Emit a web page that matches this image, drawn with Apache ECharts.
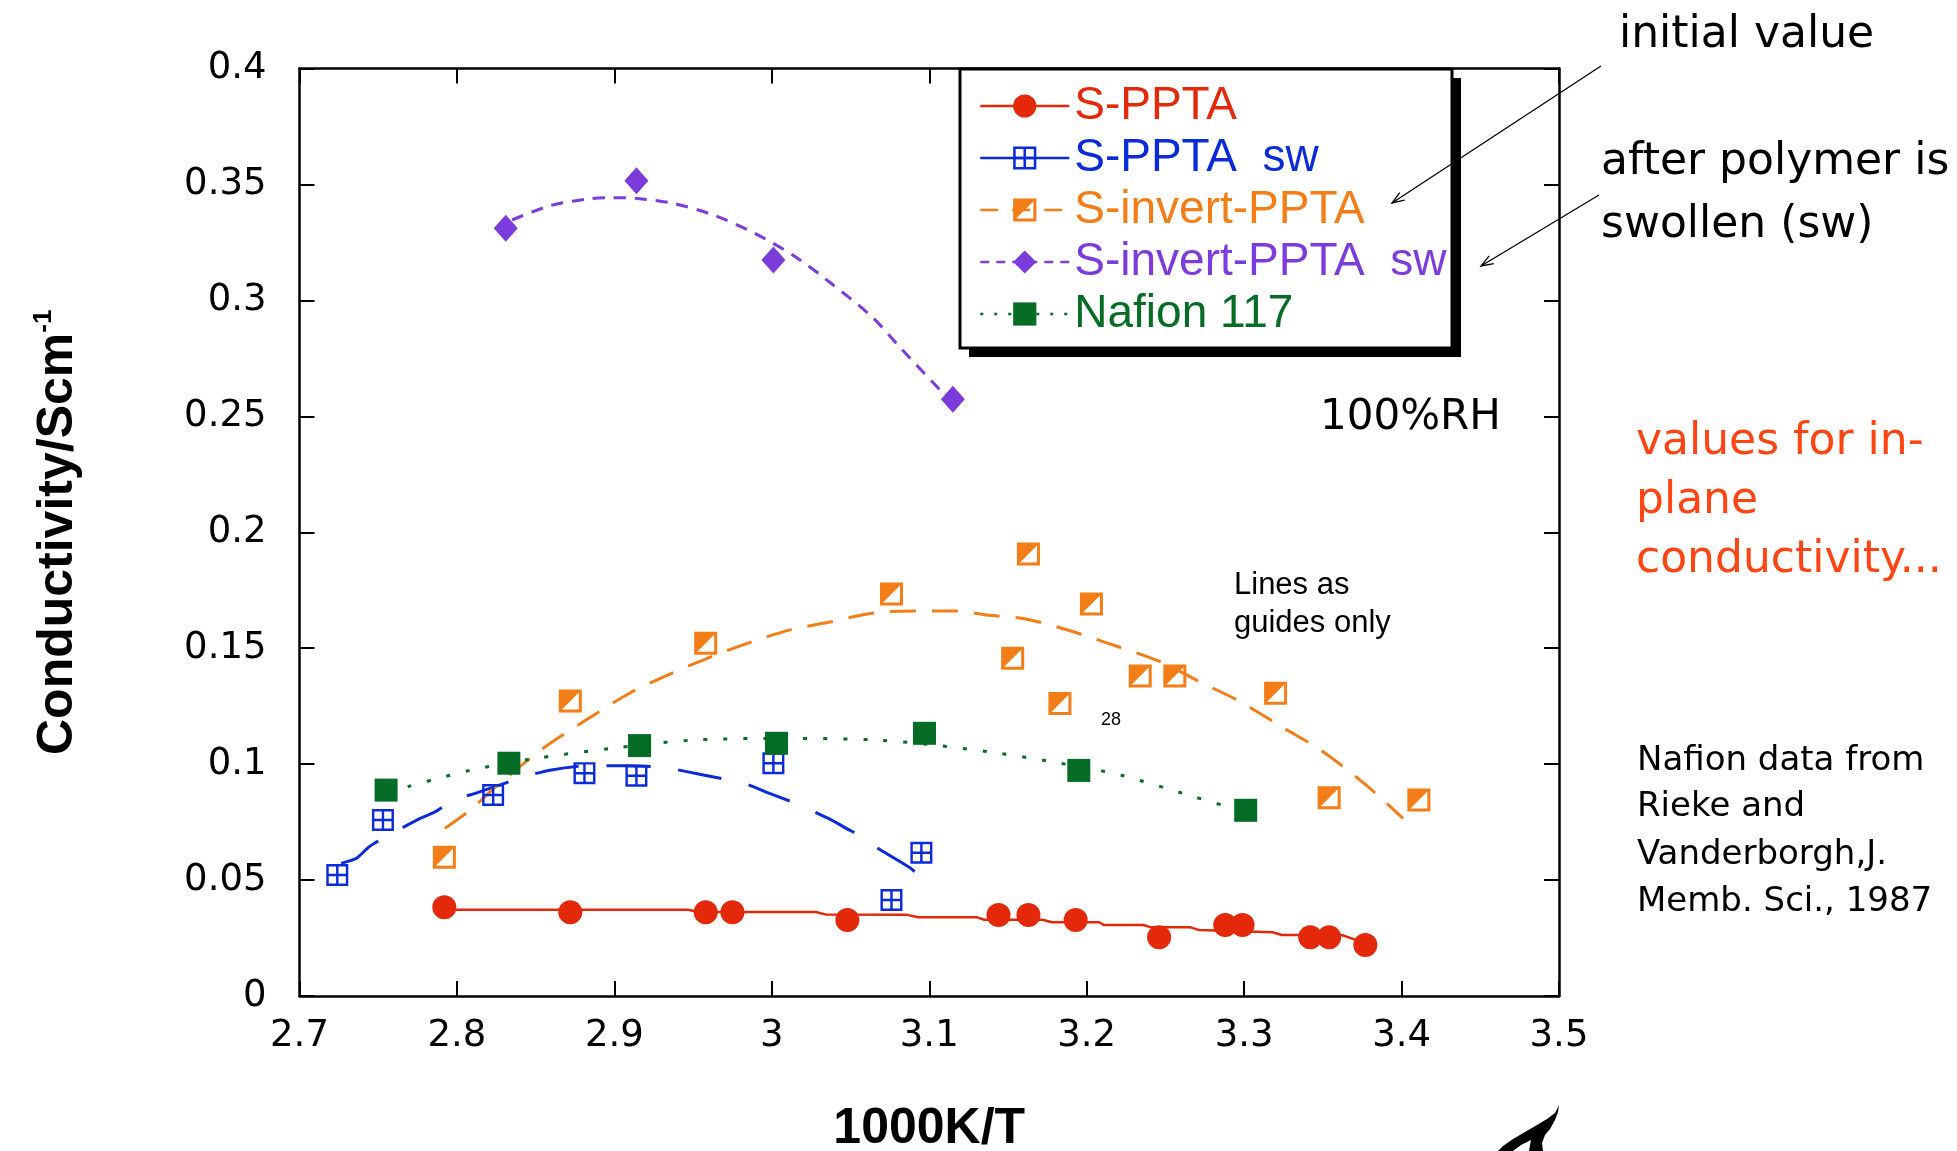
<!DOCTYPE html>
<html>
<head>
<meta charset="utf-8">
<style>
  html, body { margin: 0; padding: 0; background: #fff; }
  #chart { width: 1957px; height: 1151px; }
</style>
<script src="https://cdn.jsdelivr.net/npm/echarts@6/dist/echarts.min.js"></script>
</head>
<body>
<div id="chart"></div>
<script>
// ---- measured points (x = 1000K/T, y = conductivity S/cm) ----
const pptaX = [2.792, 2.872, 2.958, 2.975, 3.048, 3.144, 3.163, 3.193, 3.246, 3.288, 3.299, 3.342, 3.354, 3.377];
const pptaY = [0.0383, 0.0361, 0.0361, 0.0361, 0.0328, 0.0349, 0.0349, 0.0328, 0.0253, 0.0306, 0.0306, 0.0253, 0.0253, 0.022];

const pptaSwX = [2.724, 2.753, 2.823, 2.881, 2.914, 3.001, 3.076, 3.095];
const pptaSwY = [0.0522, 0.0759, 0.0867, 0.0961, 0.0950, 0.1004, 0.0414, 0.0618];

const invX = [2.792, 2.872, 2.958, 3.076, 3.153, 3.163, 3.183, 3.203, 3.234, 3.256, 3.320, 3.354, 3.411];
const invY = [0.0598, 0.1272, 0.1521, 0.1734, 0.1457, 0.1906, 0.1262, 0.1691, 0.1380, 0.1380, 0.1306, 0.0855, 0.0845];

const invSwX = [2.831, 2.914, 3.001, 3.115];
const invSwY = [0.3311, 0.3516, 0.3174, 0.2574];

const nafionX = [2.755, 2.833, 2.916, 3.003, 3.097, 3.195, 3.301];
const nafionY = [0.0888, 0.1004, 0.1080, 0.1090, 0.1133, 0.0973, 0.0801];

// ---- hand-drawn guide lines ----
const pptaGuideX = [2.792, 2.947, 2.953, 3.028, 3.034, 3.086, 3.093, 3.130, 3.135, 3.172, 3.178, 3.208, 3.211, 3.236, 3.241, 3.266, 3.271, 3.318, 3.324, 3.362, 3.371, 3.377];
const pptaGuideY = [0.0372, 0.0372, 0.0362, 0.0362, 0.0352, 0.0350, 0.0340, 0.0340, 0.0329, 0.0329, 0.0318, 0.0318, 0.0306, 0.0306, 0.0296, 0.0296, 0.0285, 0.0275, 0.0263, 0.0263, 0.0242, 0.022];

const pptaSwGuideX = [2.7265, 2.7362, 2.7443, 2.7556, 2.7767, 2.7864, 2.7994, 2.8082, 2.8302, 2.840, 2.860, 2.882, 2.908, 2.9323, 2.9566, 2.9825, 2.9987, 3.015, 3.036, 3.0473, 3.057, 3.0667, 3.0878, 3.0949];
const pptaSwGuideY = [0.0572, 0.0594, 0.0644, 0.0690, 0.0766, 0.0795, 0.0853, 0.0867, 0.0917, 0.0942, 0.0975, 0.0993, 0.0993, 0.0985, 0.0953, 0.0917, 0.0874, 0.0831, 0.0766, 0.0723, 0.0687, 0.0640, 0.0553, 0.0510];

const invGuideX = [2.7923, 2.8084, 2.827, 2.8561, 2.882, 2.9096, 2.934, 2.9614, 2.9874, 3.0117, 3.0376, 3.0635, 3.0895, 3.1158, 3.1365, 3.1613, 3.1916, 3.2137, 3.2467, 3.2715, 3.2977, 3.3238, 3.3486, 3.3762, 3.401];
const invGuideY = [0.0723, 0.0802, 0.0917, 0.1075, 0.1190, 0.1306, 0.1385, 0.1463, 0.1528, 0.1579, 0.1614, 0.1651, 0.1661, 0.1661, 0.1643, 0.1626, 0.1571, 0.1521, 0.1442, 0.1356, 0.1269, 0.1161, 0.1061, 0.0917, 0.0766];

const invSwGuideX = [2.835, 2.8594, 2.8837, 2.8982, 2.9144, 2.9372, 2.963, 2.989, 3.0149, 3.0376, 3.0635, 3.083, 3.1089];
const invSwGuideY = [0.3347, 0.3409, 0.3438, 0.3443, 0.3440, 0.3419, 0.3368, 0.3290, 0.3189, 0.3074, 0.2930, 0.2786, 0.2599];

const nafionGuideX = [2.7687, 2.8075, 2.8464, 2.8982, 2.9501, 3.015, 3.0668, 3.1062, 3.1442, 3.1833, 3.222, 3.261, 3.2866];
const nafionGuideY = [0.0903, 0.0972, 0.1021, 0.1068, 0.1104, 0.1111, 0.1104, 0.1080, 0.1047, 0.1004, 0.0952, 0.0874, 0.0822];

const seriesNames = ['S-PPTA', 'S-PPTA  sw', 'S-invert-PPTA', 'S-invert-PPTA  sw', 'Nafion 117'];

const RED = '#e4280a', BLUE = '#0b2bd8', ORANGE = '#f37d16', PURPLE = '#7c3cdb', GREEN = '#046c24';
const HAND = 'DejaVu Sans';

const gridSquare = 'path://M0,0H20V2.2H0Z M0,17.8H20V20H0Z M0,0H2.2V20H0Z M17.8,0H20V20H17.8Z M8.9,0H11.1V20H8.9Z M0,8.9H20V11.1H0Z';
const halfSquare = 'path://M0,0H20V2.6H0Z M0,17.4H20V20H0Z M0,0H2.6V20H0Z M17.4,0H20V20H17.4Z M0,0L20,0L0,20Z';

const pairs = (xs, ys) => xs.map((x, i) => [x, ys[i]]);

function markers(name, xs, ys, color, symbol, size) {
    return {
        name: name, type: 'line', data: pairs(xs, ys),
        symbol: symbol, symbolSize: size, showSymbol: true,
        lineStyle: {color: color, opacity: 0},
        itemStyle: {color: color},
        z: 5, silent: true
    };
}
function guide(xs, ys, color, type, width, smooth) {
    return {
        name: 'guide', type: 'line', data: pairs(xs, ys), symbol: 'none', smooth: smooth,
        lineStyle: {color: color, width: width, type: type},
        z: 3, silent: true
    };
}
function legendItem(name, color, type) {
    return {name: name, textStyle: {color: color}, lineStyle: {opacity: 1, width: 2.5, type: type, color: color}};
}
function arrow(x1, y1, x2, y2) {
    const a = Math.atan2(y2 - y1, x2 - x1), L = 13, s = 0.35;
    return [
        {type: 'line', z: 30, shape: {x1: x1, y1: y1, x2: x2, y2: y2}, style: {stroke: '#000', lineWidth: 1.3}},
        {type: 'polyline', z: 30, shape: {points: [
            [x2 - L * Math.cos(a - s), y2 - L * Math.sin(a - s)], [x2, y2],
            [x2 - L * Math.cos(a + s), y2 - L * Math.sin(a + s)]]},
            style: {stroke: '#000', lineWidth: 1.3, fill: null}}
    ];
}
function note(text, x, y, size, family, color, align) {
    return {type: 'text', x: x, y: y, z: 10, style: {
        text: text, fontSize: size, fontFamily: family, fill: color || '#000',
        align: align || 'left', verticalAlign: 'middle'}};
}

const axisLine = {show: true, onZero: false, lineStyle: {color: '#000', width: 2.5}};
const axisTick = {show: true, inside: true, length: 15, lineStyle: {color: '#000', width: 2}};
const tickFont = {color: '#000', fontFamily: 'DejaVu Sans', fontSize: 37};

const chart = echarts.init(document.getElementById('chart'));
chart.setOption({
    animation: false,
    backgroundColor: '#fff',
    grid: {left: 299.5, right: 398, top: 68.6, bottom: 155, containLabel: false, outerBoundsMode: 'none'},
    xAxis: [{
        type: 'value', position: 'bottom', min: 2.7, max: 3.5, interval: 0.1,
        axisLine: axisLine, axisTick: axisTick, splitLine: {show: false},
        axisLabel: Object.assign({margin: 22}, tickFont),
        name: '1000K/T', nameLocation: 'middle', nameGap: 108,
        nameTextStyle: {color: '#000', fontFamily: 'Liberation Sans', fontWeight: 'bold', fontSize: 50}
    }, {
        type: 'value', position: 'top', min: 2.7, max: 3.5, interval: 0.1,
        axisLine: axisLine, axisTick: axisTick, splitLine: {show: false}, axisLabel: {show: false}
    }],
    yAxis: [{
        type: 'value', position: 'left', min: 0, max: 0.4, interval: 0.05,
        axisLine: axisLine, axisTick: axisTick, splitLine: {show: false},
        axisLabel: Object.assign({margin: 33, padding: [0, 0, 14, 0]}, tickFont),
        name: '{m|Conductivity/Scm}{s|-1}', nameLocation: 'middle', nameRotate: 90, nameGap: 213,
        nameTextStyle: {
            color: '#000', fontFamily: 'Liberation Sans', fontWeight: 'bold', fontSize: 50,
            rich: {
                m: {color: '#000', fontFamily: 'Liberation Sans', fontWeight: 'bold', fontSize: 50, lineHeight: 56},
                s: {color: '#000', fontFamily: 'Liberation Sans', fontWeight: 'bold', fontSize: 26, lineHeight: 26, verticalAlign: 'top'}
            }
        }
    }, {
        type: 'value', position: 'right', min: 0, max: 0.4, interval: 0.05,
        axisLine: axisLine, axisTick: axisTick, splitLine: {show: false}, axisLabel: {show: false}
    }],
    legend: {
        orient: 'vertical', left: 960, top: 69, z: 20,
        itemWidth: 89, itemHeight: 29, itemGap: 6, itemTextGap: 10,
        padding: [14, 0, 10, 19],
        backgroundColor: 'transparent', borderWidth: 0,
        selectedMode: false,
        textStyle: {fontFamily: 'Liberation Sans', fontSize: 46, lineHeight: 46},
        data: [
            legendItem(seriesNames[0], RED, 'solid'),
            legendItem(seriesNames[1], BLUE, 'solid'),
            legendItem(seriesNames[2], ORANGE, [18, 14]),
            legendItem(seriesNames[3], PURPLE, [9, 7]),
            legendItem(seriesNames[4], GREEN, [3, 11])
        ]
    },
    series: [
        guide(pptaGuideX, pptaGuideY, RED, 'solid', 2.5, false),
        guide(pptaSwGuideX, pptaSwGuideY, BLUE, [44, 28], 3, 0.2),
        guide(invGuideX, invGuideY, ORANGE, [26, 16], 3, 0.3),
        guide(invSwGuideX, invSwGuideY, PURPLE, [12, 9], 3, 0.3),
        guide(nafionGuideX, nafionGuideY, GREEN, [4, 16], 3, 0.3),
        markers(seriesNames[0], pptaX, pptaY, RED, 'circle', 24),
        markers(seriesNames[1], pptaSwX, pptaSwY, BLUE, gridSquare, 22),
        markers(seriesNames[2], invX, invY, ORANGE, halfSquare, 23),
        markers(seriesNames[3], invSwX, invSwY, PURPLE, 'diamond', [24, 27]),
        markers(seriesNames[4], nafionX, nafionY, GREEN, 'rect', 23)
    ],
    graphic: [].concat(
        [
            // legend frame with its hard drop shadow
            {type: 'rect', z: 18, shape: {x: 969, y: 78, width: 492, height: 279}, style: {fill: '#000'}},
            {type: 'rect', z: 19, shape: {x: 960, y: 69, width: 492, height: 279}, style: {fill: '#fff', stroke: '#000', lineWidth: 3}}
        ],
        arrow(1601, 66, 1392, 203),
        arrow(1599, 195, 1481, 266),
        [
            note('initial value', 1619, 36, 44, HAND),
            note('after polymer is', 1601, 163, 44, HAND),
            note('swollen (sw)', 1601, 226, 44, HAND),
            note('100%RH', 1320, 418, 42, HAND),
            note('values for in-', 1636, 443, 44, HAND, '#ff4513'),
            note('plane', 1636, 502, 44, HAND, '#ff4513'),
            note('conductivity...', 1636, 561, 44, HAND, '#ff4513'),
            note('Lines as', 1234, 585, 31, 'Liberation Sans'),
            note('guides only', 1234, 623, 31, 'Liberation Sans'),
            note('28', 1111, 720, 18, 'Liberation Sans', '#000', 'center'),
            note('Nafion data from', 1637, 761, 34, HAND),
            note('Rieke and', 1637, 807, 34, HAND),
            note('Vanderborgh,J.', 1637, 855, 34, HAND),
            note('Memb. Sci., 1987', 1637, 902, 34, HAND),
            {type: 'polygon', x: 1495, y: 1105, z: 10, shape: {points: [
                [64, 0], [60, 8], [52, 14], [42, 20], [30, 27], [18, 34], [8, 41], [3, 46], [18, 46],
                [26, 40], [36, 35], [34, 46], [48, 46], [47, 38], [50, 30], [55, 24], [60, 15], [63, 7]]},
                style: {fill: '#000'}}
        ]
    )
});
</script>
</body>
</html>
